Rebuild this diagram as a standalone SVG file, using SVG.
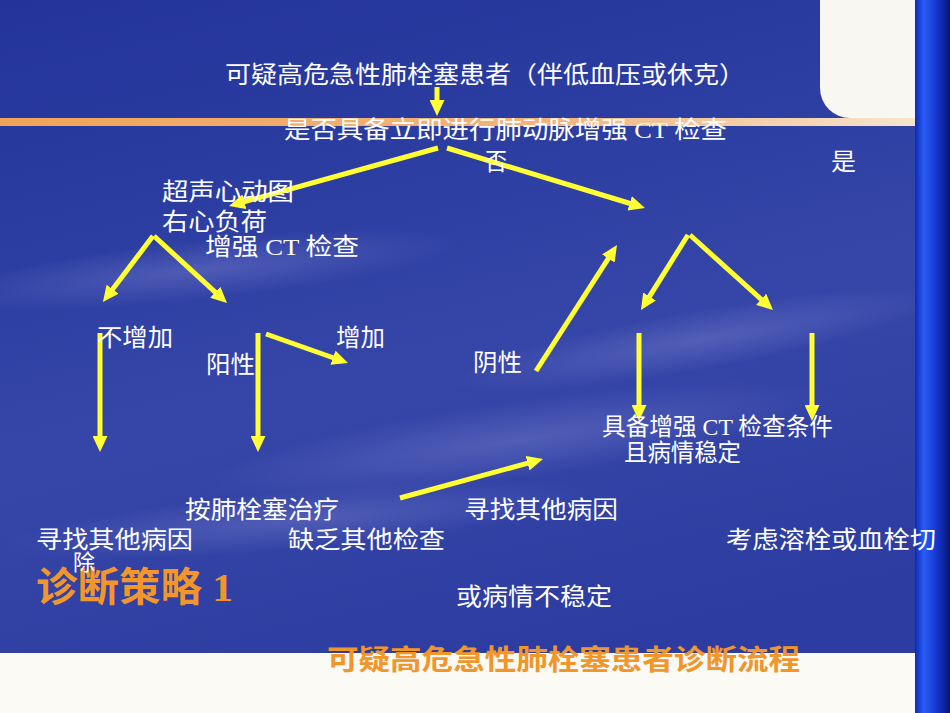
<svg xmlns="http://www.w3.org/2000/svg" width="950" height="713" viewBox="0 0 950 713">
<defs>
<linearGradient id="bg" x1="0" y1="0" x2="0.3" y2="1">
<stop offset="0" stop-color="#23339a"/>
<stop offset="0.35" stop-color="#2d3ea2"/>
<stop offset="0.6" stop-color="#3646a8"/>
<stop offset="1" stop-color="#2c3ca0"/>
</linearGradient>
<linearGradient id="band" x1="0" y1="0" x2="1" y2="0">
<stop offset="0" stop-color="#f0a458"/>
<stop offset="0.6" stop-color="#f2b47c"/>
<stop offset="1" stop-color="#f6e4cc"/>
</linearGradient>
<linearGradient id="bar" x1="0" y1="0" x2="1" y2="0">
<stop offset="0" stop-color="#0c2ab8"/>
<stop offset="0.25" stop-color="#2a5cf6"/>
<stop offset="0.6" stop-color="#1638d0"/>
<stop offset="1" stop-color="#061676"/>
</linearGradient>
<radialGradient id="streak" cx="0.5" cy="0.5" r="0.5">
<stop offset="0" stop-color="#8a90d8" stop-opacity="0.35"/>
<stop offset="1" stop-color="#8a90d8" stop-opacity="0"/>
</radialGradient>
<marker id="ah" markerUnits="userSpaceOnUse" markerWidth="16" markerHeight="15" refX="4" refY="7.5" orient="auto">
<path d="M0,0 L16,7.5 L0,15 z" fill="#ffff33"/>
</marker>
<style>
.t{font-family:"Liberation Serif","Noto Sans CJK SC",serif;font-size:24px;fill:#ffffff;}
.o{font-family:"Liberation Serif","Noto Sans CJK SC",serif;fill:#f0962a;font-weight:bold;}
.c line{stroke:#ffff33;stroke-width:5;marker-end:url(#ah);}
</style>
</defs>
<g id="background">
<rect x="0" y="0" width="950" height="713" fill="url(#bg)"/>
<ellipse cx="200" cy="270" rx="260" ry="30" fill="url(#streak)" transform="rotate(-6 200 270)"/>
<ellipse cx="520" cy="440" rx="320" ry="40" fill="url(#streak)" transform="rotate(-8 520 440)"/>
<ellipse cx="300" cy="520" rx="300" ry="30" fill="url(#streak)" transform="rotate(-5 300 520)"/>
<ellipse cx="700" cy="340" rx="250" ry="30" fill="url(#streak)" transform="rotate(-10 700 340)"/>
<path d="M820,0 H915 V118 H850 A30,30 0 0 1 820,88 Z" fill="#f8f7f2"/>
<rect x="0" y="118" width="915" height="8" fill="url(#band)"/>
<rect x="0" y="653" width="915" height="60" fill="#fbfaf5"/>
<rect x="915" y="0" width="35" height="713" fill="url(#bar)"/>
</g>
<g id="connectors" class="c">
<line x1="437" y1="87" x2="437" y2="104"/>
<line x1="438" y1="148" x2="240.6" y2="202.8"/>
<line x1="447" y1="148" x2="633.5" y2="204.5"/>
<line x1="153" y1="236" x2="110.2" y2="292.4"/>
<line x1="154" y1="236" x2="218.2" y2="294.9"/>
<line x1="688" y1="235" x2="647.4" y2="299.8"/>
<line x1="690" y1="235" x2="764.1" y2="302"/>
<line x1="100" y1="333" x2="100" y2="440"/>
<line x1="258" y1="333" x2="258" y2="440"/>
<line x1="266" y1="334" x2="336.7" y2="359"/>
<line x1="536" y1="371" x2="610.5" y2="255.1"/>
<line x1="639" y1="333" x2="639" y2="409"/>
<line x1="812" y1="333" x2="812" y2="409"/>
<line x1="400" y1="498" x2="531.4" y2="462.2"/>
</g>
<g id="n-start"><text class="t" x="225" y="83" textLength="520" lengthAdjust="spacingAndGlyphs">可疑高危急性肺栓塞患者（伴低血压或休克）</text></g>
<g id="n-question"><text class="t" x="284" y="138" textLength="443" lengthAdjust="spacingAndGlyphs">是否具备立即进行肺动脉增强 CT 检查</text></g>
<g id="n-no"><text class="t" x="485" y="170" textLength="22" lengthAdjust="spacingAndGlyphs">否</text></g>
<g id="n-yes"><text class="t" x="831" y="170" textLength="25" lengthAdjust="spacingAndGlyphs">是</text></g>
<g id="n-echo">
<text class="t" x="162" y="200" textLength="132" lengthAdjust="spacingAndGlyphs">超声心动图</text>
<text class="t" x="162" y="230" textLength="105" lengthAdjust="spacingAndGlyphs">右心负荷</text>
</g>
<g id="n-ct"><text class="t" x="205" y="255" textLength="154" lengthAdjust="spacingAndGlyphs">增强 CT 检查</text></g>
<g id="n-noincrease"><text class="t" x="97" y="346" textLength="76" lengthAdjust="spacingAndGlyphs">不增加</text></g>
<g id="n-positive"><text class="t" x="206" y="373" textLength="49" lengthAdjust="spacingAndGlyphs">阳性</text></g>
<g id="n-increase"><text class="t" x="336" y="346" textLength="49" lengthAdjust="spacingAndGlyphs">增加</text></g>
<g id="n-negative"><text class="t" x="473" y="371" textLength="49" lengthAdjust="spacingAndGlyphs">阴性</text></g>
<g id="n-ctready">
<text class="t" x="602" y="435" textLength="231" lengthAdjust="spacingAndGlyphs">具备增强 CT 检查条件</text>
<text class="t" x="624" y="461" textLength="117" lengthAdjust="spacingAndGlyphs">且病情稳定</text>
</g>
<g id="n-treat"><text class="t" x="185" y="518" textLength="154" lengthAdjust="spacingAndGlyphs">按肺栓塞治疗</text></g>
<g id="n-other2"><text class="t" x="464" y="518" textLength="154" lengthAdjust="spacingAndGlyphs">寻找其他病因</text></g>
<g id="n-other1"><text class="t" x="36" y="548" textLength="157" lengthAdjust="spacingAndGlyphs">寻找其他病因</text></g>
<g id="n-lack">
<text class="t" x="288" y="548" textLength="157" lengthAdjust="spacingAndGlyphs">缺乏其他检查</text>
<text class="t" x="456" y="605" textLength="156" lengthAdjust="spacingAndGlyphs">或病情不稳定</text>
</g>
<g id="n-thrombolysis"><text class="t" x="726" y="548" textLength="210" lengthAdjust="spacingAndGlyphs">考虑溶栓或血栓切</text></g>
<g id="title-strategy"><text class="o" x="36" y="601" font-size="40" textLength="197" lengthAdjust="spacingAndGlyphs">诊断策略 1</text></g>
<g id="n-thrombolysis-2"><text class="t" x="73" y="570" style="font-size:22px">除</text></g>
<g id="title-bottom"><text class="o" x="327" y="670" font-size="28" textLength="473" lengthAdjust="spacingAndGlyphs">可疑高危急性肺栓塞患者诊断流程</text></g>
</svg>
